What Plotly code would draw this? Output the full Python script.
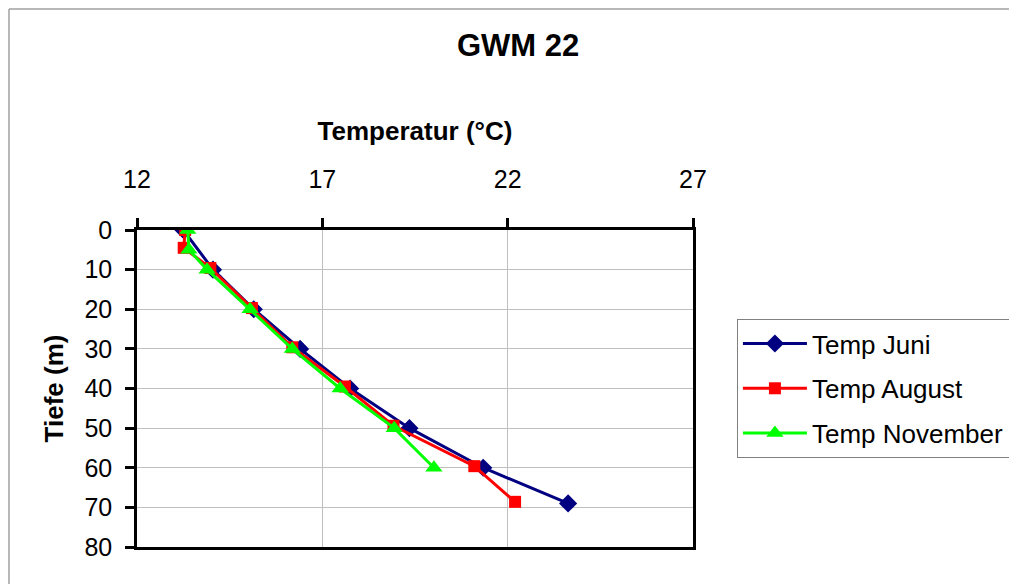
import plotly.graph_objects as go

depth_juni = [0, 10, 20, 30, 40, 50, 60, 69]
temp_juni = [13.25, 14.05, 15.15, 16.4, 17.75, 19.35, 21.34, 23.63]

depth_aug = [0, 4.5, 9.6, 19.7, 29.6, 39.5, 49.4, 59.6, 68.6]
temp_aug = [13.3, 13.26, 13.98, 15.1, 16.19, 17.61, 18.92, 21.1, 22.2]

depth_nov = [0, 5, 10, 20, 30, 40, 50, 60]
temp_nov = [13.37, 13.4, 13.89, 15.05, 16.19, 17.48, 18.94, 20.01]

x_ticks = [12, 17, 22, 27]
y_ticks = [0, 10, 20, 30, 40, 50, 60, 70, 80]

FONT = "Liberation Sans, Arial, sans-serif"

fig = go.Figure()
fig.add_trace(go.Scatter(x=temp_juni, y=depth_juni, name="Temp Juni", mode="lines+markers",
                         legendgroup="a",
                         line=dict(color="#000080", width=3),
                         marker=dict(symbol="diamond", size=14, color="#000080")))
fig.add_trace(go.Scatter(x=temp_aug, y=depth_aug, name="Temp August", mode="lines+markers",
                         legendgroup="b",
                         line=dict(color="#FF0000", width=3),
                         marker=dict(symbol="square", size=12, color="#FF0000")))
fig.add_trace(go.Scatter(x=temp_nov, y=depth_nov, name="Temp November", mode="lines+markers",
                         legendgroup="c",
                         line=dict(color="#00FF00", width=3),
                         marker=dict(symbol="triangle-up", size=15, color="#00FF00")))

W, H = 1009, 576
L, R, T, B = 129, 324, 222, 37
pw, ph = W - L - R, H - T - B

fig.update_layout(
    width=W, height=H,
    margin=dict(l=L, r=R, t=T, b=B, autoexpand=False),
    paper_bgcolor="white", plot_bgcolor="white",
    font=dict(family=FONT, color="black", size=25),
    title=dict(text="<b>GWM 22</b>", x=0.5055, xanchor="center", y=1 - 37 / H, yanchor="middle",
               font=dict(family=FONT, size=31, color="black")),
    legend=dict(x=1.079, xanchor="left", y=0.719, yanchor="top",
                bordercolor="#808080", borderwidth=1, bgcolor="white",
                font=dict(family=FONT, size=26, color="black"),
                itemwidth=64, traceorder="grouped", tracegroupgap=8),
    showlegend=True,
)

fig.update_xaxes(side="top", range=[12, 27], tickvals=x_ticks, ticktext=[str(v) for v in x_ticks],
                 showgrid=True, gridcolor="#BFBFBF", gridwidth=1,
                 showline=True, linecolor="black", linewidth=2.5, mirror=True,
                 ticks="outside", tickcolor="black", ticklen=9, tickwidth=2.5,
                 zeroline=False, tickfont=dict(size=25), ticklabelstandoff=20,
                 title=dict(text="<b>Temperatur (°C)</b>", font=dict(size=26), standoff=18))
fig.update_yaxes(range=[80, 0], tickvals=y_ticks, ticktext=[str(v) for v in y_ticks],
                 showgrid=True, gridcolor="#BFBFBF", gridwidth=1,
                 showline=True, linecolor="black", linewidth=2.5, mirror=True,
                 ticks="outside", tickcolor="black", ticklen=9, tickwidth=2.5,
                 zeroline=False, tickfont=dict(size=25), ticklabelstandoff=8,
                 title=dict(text="<b>Tiefe (m)</b>", font=dict(size=26), standoff=14))

# outer chart frame (left and top edges, at the figure border)
x_left = (1 - L) / pw
y_top = (H - B - 1) / ph
fig.add_shape(type="line", xref="paper", yref="paper", x0=x_left, x1=2.0, y0=y_top, y1=y_top,
              line=dict(color="#A0A0A0", width=1.5))
fig.add_shape(type="line", xref="paper", yref="paper", x0=x_left, x1=x_left, y0=y_top, y1=-0.3,
              line=dict(color="#A0A0A0", width=1.5))

fig.write_html("out.html")
